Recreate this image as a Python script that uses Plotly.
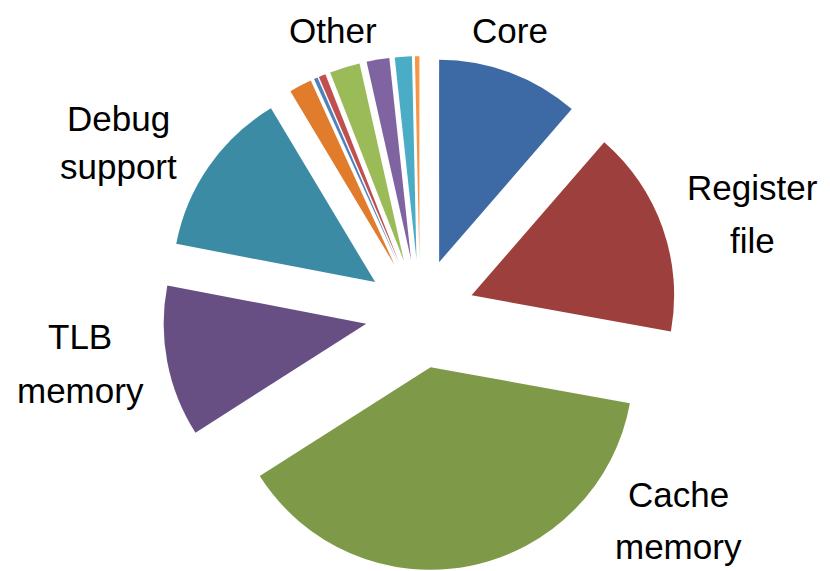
import plotly.graph_objects as go

# Share of area per component (percent), drawn clockwise from 12 o'clock
components = ["Core", "Register file", "Cache memory", "TLB memory", "Debug support",
              "Other 1", "Other 2", "Other 3", "Other 4", "Other 5", "Other 6", "Other 7"]
shares = [11.3, 16.4, 37.9, 12.0, 13.3, 1.8, 0.3, 0.55, 2.4, 1.8, 1.35, 0.35]
colors = ["#3D6AA5", "#9D3F3C", "#7E9A48", "#674F84", "#3A8BA3",
          "#E07C2C", "#4F81BD", "#C0504D", "#9BBB59", "#8064A2", "#4BACC6", "#F79646"]

# Outside labels, one entry per text line: (text, x px, y px)
label_lines = [
    ("Other", 333, 30), ("Core", 510, 30),
    ("Register", 752, 188), ("file", 752, 240),
    ("Cache", 678, 494), ("memory", 678, 546),
    ("TLB", 80, 336), ("memory", 80, 390),
    ("Debug", 118, 118), ("support", 118, 166),
]

W, H = 830, 571
fig = go.Figure(go.Pie(
    labels=components,
    values=shares,
    sort=False,
    direction="clockwise",
    rotation=0,
    pull=[0.27] * len(shares),
    marker=dict(colors=colors, line=dict(color="white", width=0)),
    textinfo="none",
    hoverinfo="label+percent",
    showlegend=False,
    domain=dict(x=[0.196, 0.816], y=[0.0, 0.902]),
))

font = dict(family="Liberation Sans Narrow, Arial Narrow, Liberation Sans, Arial", size=35, color="black")
for text, px, py in label_lines:
    fig.add_annotation(text=text, x=px / W, y=1 - py / H, xref="paper", yref="paper",
                       xanchor="center", yanchor="middle", showarrow=False, font=font)

fig.update_layout(width=W, height=H, margin=dict(l=0, r=0, t=0, b=0),
                  paper_bgcolor="white", plot_bgcolor="white")
fig.write_html("out.html")
